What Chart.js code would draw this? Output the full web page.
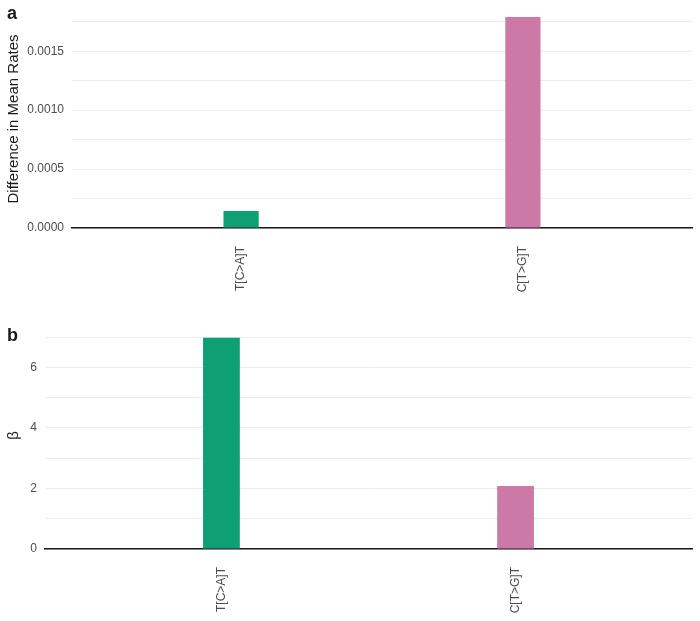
<!DOCTYPE html>
<html>
<head>
<meta charset="utf-8">
<script src="https://cdn.jsdelivr.net/npm/chart.js@4.4.0/dist/chart.umd.min.js"></script>
<style>
    body { margin: 0; background: #fff; width: 700px; height: 621px; overflow: hidden; font-family: "Liberation Sans", Arial, sans-serif; }
    .panel { position: absolute; left: 0; width: 700px; }
    .tag { position: absolute; left: 7px; font-weight: bold; font-size: 18px; color: #1a1a1a; }
</style>
</head>
<body>
<div class="panel" style="top:0;height:310px"><canvas id="DifMedias" width="700" height="310"></canvas></div>
<div class="panel" style="top:310px;height:311px"><canvas id="Beta" width="700" height="311"></canvas></div>
<div class="tag" style="top:3px">a</div>
<div class="tag" style="top:325px">b</div>

<script>
// datos
var categorias = ['T[C>A]T', 'C[T>G]T'];
var difMedias = [0.000145, 0.00179];
var betas = [6.98, 2.08];
var colores = ['#0f9f74', '#cc79a7'];

var ticksDif = [0, 0.0005, 0.001, 0.0015];
var menoresDif = [0.00025, 0.00075, 0.00125, 0.00175];
var ticksBeta = [0, 2, 4, 6];
var menoresBeta = [1, 3, 5, 7];

var fuente = "'Liberation Sans', Arial, sans-serif";

difMediasChart();
betaChart();

function difMediasChart() {
    new Chart('DifMedias', {
        type: 'bar',
        data: {
            datasets: [{
                data: categorias.map(function (c, i) { return { x: i + 1, y: difMedias[i] }; }),
                backgroundColor: colores
            }]
        },
        options: opcionesPanel({
            top: 10,
            anchoY: 72,
            altoX: 82,
            maxY: 0.00185,
            mayores: ticksDif,
            menores: menoresDif,
            formato: function (v) { return v.toFixed(4); },
            titulo: 'Difference in Mean Rates'
        })
    });
}

function betaChart() {
    new Chart('Beta', {
        type: 'bar',
        data: {
            datasets: [{
                data: categorias.map(function (c, i) { return { x: i + 1, y: betas[i] }; }),
                backgroundColor: colores
            }]
        },
        options: opcionesPanel({
            top: 12,
            anchoY: 45,
            altoX: 72,
            maxY: 7.5,
            mayores: ticksBeta,
            menores: menoresBeta,
            formato: function (v) { return String(v); },
            titulo: 'β'
        })
    });
}

// opciones comunes de los dos paneles
function opcionesPanel(p) {
    function esMayor(v) {
        return p.mayores.some(function (m) { return Math.abs(m - v) < 1e-9; });
    }
    return {
        responsive: false,
        animation: false,
        layout: { padding: { left: 0, right: 8, top: p.top, bottom: 0 } },
        plugins: { legend: { display: false }, tooltip: { enabled: false } },
        datasets: { bar: { barPercentage: 0.125, categoryPercentage: 1 } },
        scales: {
            x: {
                type: 'linear',
                offset: false,
                min: 0.4,
                max: 2.6,
                afterBuildTicks: function (axis) {
                    axis.ticks = categorias.map(function (c, i) { return { value: i + 1 }; });
                },
                afterFit: function (axis) { axis.height = p.altoX; },
                grid: { display: false },
                border: { display: true, color: '#1a1a1a', width: 1.5 },
                ticks: {
                    autoSkip: false,
                    minRotation: 90,
                    maxRotation: 90,
                    padding: 10,
                    color: '#4d4d4d',
                    font: { family: fuente, size: 12 },
                    callback: function (val) { return categorias[Math.round(val) - 1]; }
                }
            },
            y: {
                min: 0,
                max: p.maxY,
                afterBuildTicks: function (axis) {
                    axis.ticks = p.mayores.concat(p.menores)
                        .sort(function (a, b) { return a - b; })
                        .map(function (v) { return { value: v }; });
                },
                afterFit: function (axis) {
                    axis.width = p.anchoY;
                    // sin margen extra arriba: manda el padding del layout
                    axis.paddingTop = 0;
                    axis.paddingBottom = 0;
                },
                grid: { color: '#ebebeb', lineWidth: 1, drawTicks: false },
                border: { display: false },
                ticks: {
                    padding: 8,
                    color: '#4d4d4d',
                    font: { family: fuente, size: 12 },
                    callback: function (val) { return esMayor(val) ? p.formato(val) : ''; }
                },
                title: {
                    display: true,
                    text: p.titulo,
                    color: '#1a1a1a',
                    padding: { top: 5, bottom: 4 },
                    font: { family: fuente, size: 15 }
                }
            }
        }
    };
}
</script>
</body>
</html>
